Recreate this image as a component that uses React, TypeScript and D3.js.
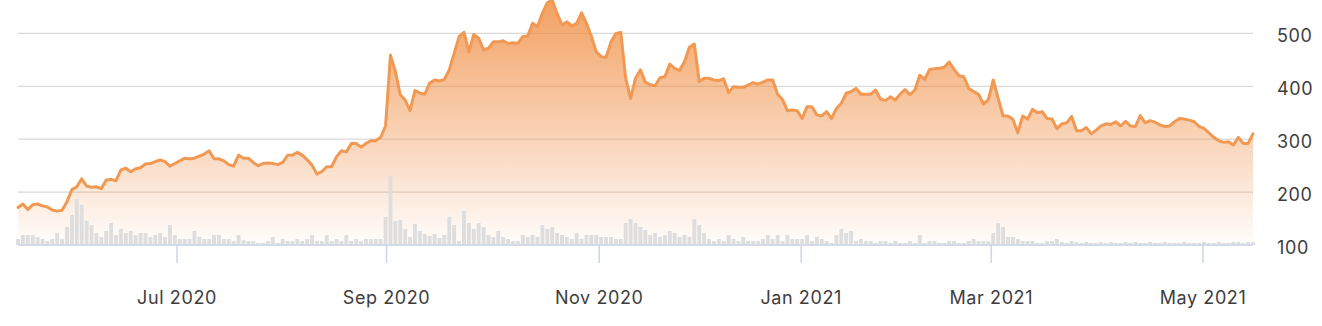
import React from "react";
import * as d3 from "d3";

// Closing price per trading day (mid-May 2020 → mid-May 2021)
const prices: number[] = [
  171, 177.5, 167, 176, 177.5, 174, 172, 166, 164, 165.5,
  182, 205, 210, 225, 211.5, 209, 210, 206.5, 223, 224,
  221.6, 242, 245, 238.6, 244, 246, 253, 254, 257.5, 260.7,
  257.5, 249, 254, 259, 264, 263, 264, 268, 272, 278,
  263, 263, 259, 252, 249, 270, 264, 264, 256, 250,
  254, 255, 254, 252, 256, 269.5, 270, 275, 270, 261,
  251, 234, 239, 248, 248, 267, 278, 276, 292, 292,
  285, 292, 297, 297, 303.5, 325, 459, 428, 384, 374,
  354, 392, 387, 385, 406, 412, 410, 413, 431, 462,
  494, 502, 465, 498, 491, 469, 472, 484, 484, 486,
  481, 482.5, 481, 494, 495, 519, 513, 538, 558, 563,
  538, 516, 522, 514, 519, 539, 519, 494, 465, 456,
  455, 484, 500, 502, 415, 377, 415, 431, 408, 403,
  401, 416, 418, 442, 434, 430, 447, 474, 480, 409,
  415, 415, 412, 411, 414, 388, 399, 398, 398, 402.5,
  407, 404, 408, 412, 412, 385, 375, 354, 355, 354,
  339, 361.5, 361.5, 346, 344, 352, 339, 358, 368, 387,
  390, 396, 385, 385, 385, 393, 376, 373, 380, 374,
  385, 394, 384, 393, 421, 413, 432, 433, 434, 436,
  446, 432, 420, 418, 396, 390, 385, 366.5, 375, 412,
  377, 344, 344, 337.6, 312, 344, 338, 356.5, 350, 352,
  339, 338, 320, 329, 331, 343, 316, 316, 322, 310,
  317, 325, 329, 328, 333, 325, 334, 325, 324, 344.5,
  331, 335, 332, 327, 324, 325, 333, 339, 338, 336,
  333, 324, 320.5, 312, 303.5, 297, 294, 295, 289, 303.5,
  292, 292, 310,
];

// Daily volume, millions of shares
const volumes: number[] = [
  0.3, 0.5, 0.5, 0.5, 0.4, 0.3, 0.2, 0.3, 0.6, 0.3,
  0.9, 1.5, 2.3, 2.0, 1.2, 1.0, 0.6, 0.4, 0.7, 1.1,
  0.5, 0.8, 0.6, 0.7, 0.5, 0.6, 0.6, 0.4, 0.5, 0.6,
  0.4, 1.0, 0.5, 0.3, 0.3, 0.3, 0.7, 0.4, 0.3, 0.3,
  0.5, 0.5, 0.3, 0.3, 0.2, 0.5, 0.25, 0.2, 0.2, 0.1,
  0.1, 0.2, 0.4, 0.1, 0.3, 0.2, 0.2, 0.3, 0.2, 0.3,
  0.5, 0.2, 0.2, 0.5, 0.2, 0.3, 0.2, 0.5, 0.2, 0.3,
  0.2, 0.3, 0.3, 0.3, 0.3, 1.4, 3.45, 1.2, 1.25, 0.8,
  0.4, 1.05, 0.7, 0.55, 0.45, 0.55, 0.35, 0.5, 1.4, 1.0,
  0.2, 1.7, 1.1, 0.8, 1.1, 0.9, 0.5, 0.4, 0.7, 0.4,
  0.3, 0.2, 0.2, 0.5, 0.4, 0.5, 0.4, 1.0, 0.8, 0.9,
  0.6, 0.5, 0.4, 0.3, 0.6, 0.3, 0.5, 0.5, 0.5, 0.4,
  0.4, 0.4, 0.3, 0.3, 1.1, 1.3, 1.1, 0.9, 0.75, 0.5,
  0.6, 0.4, 0.5, 0.7, 0.6, 0.4, 0.5, 0.4, 1.3, 1.0,
  0.6, 0.3, 0.2, 0.3, 0.2, 0.5, 0.3, 0.2, 0.4, 0.2,
  0.2, 0.2, 0.3, 0.5, 0.3, 0.5, 0.2, 0.5, 0.3, 0.3,
  0.3, 0.5, 0.2, 0.4, 0.3, 0.2, 0.1, 0.5, 0.8, 0.6,
  0.7, 0.2, 0.3, 0.2, 0.2, 0.1, 0.2, 0.2, 0.1, 0.2,
  0.1, 0.1, 0.2, 0.1, 0.5, 0.1, 0.2, 0.2, 0.1, 0.1,
  0.2, 0.2, 0.1, 0.1, 0.2, 0.3, 0.2, 0.2, 0.2, 0.6,
  1.1, 0.9, 0.4, 0.4, 0.3, 0.2, 0.2, 0.2, 0.1, 0.1,
  0.2, 0.2, 0.3, 0.15, 0.1, 0.2, 0.15, 0.1, 0.15, 0.1,
  0.1, 0.15, 0.1, 0.15, 0.1, 0.1, 0.15, 0.1, 0.15, 0.1,
  0.1, 0.15, 0.1, 0.1, 0.15, 0.1, 0.1, 0.1, 0.15, 0.1,
  0.1, 0.1, 0.15, 0.1, 0.1, 0.15, 0.1, 0.1, 0.15, 0.15,
  0.1, 0.15, 0.15,
];

const priceTicks: number[] = [100, 200, 300, 400, 500];

// Month labels, placed at their (ordinal) trading-day position
const monthLabels: string[] = ["Jul 2020", "Sep 2020", "Nov 2020", "Jan 2021", "Mar 2021", "May 2021"];
const monthPositions: number[] = [32.45, 75.2, 118.6, 159.8, 198.6, 241.8];

const W = 1322;
const H = 326;
const LEFT = 18;
const RIGHT = 1253;
const BASE = 245;
const FONT = "Inter, 'Liberation Sans', Arial, sans-serif";

export default function App() {
  const n = prices.length;
  const x = d3.scaleLinear().domain([0, n - 1]).range([LEFT, RIGHT]);
  const y = d3.scaleLinear().domain([100, 500]).range([BASE, 33.4]);
  const yv = d3.scaleLinear().domain([0, 5]).range([BASE, BASE - 100]);
  const step = x(1) - x(0);
  const barW = step * 0.8;

  const area = d3
    .area<number>()
    .x((_, i) => x(i))
    .y0(BASE)
    .y1((d) => y(d));
  const line = d3
    .line<number>()
    .x((_, i) => x(i))
    .y((d) => y(d));

  return (
    <svg
      width={W}
      height={H}
      style={{ position: "absolute", left: 0, top: 0, background: "#fff" }}
    >
      <defs>
        <linearGradient id="fillGrad" gradientUnits="userSpaceOnUse" x1="0" y1="0" x2="0" y2={BASE}>
          <stop offset="0" stopColor="#f0924a" stopOpacity={0.87} />
          <stop offset="1" stopColor="#f0924a" stopOpacity={0.02} />
        </linearGradient>
      </defs>
      {priceTicks.map((t) => (
        <line key={t} x1={LEFT} x2={RIGHT} y1={y(t)} y2={y(t)} stroke="#d9d9d9" strokeWidth={1.2} />
      ))}
      <path d={area(prices) || ""} fill="url(#fillGrad)" />
      {volumes.map((v, i) => (
        <rect
          key={i}
          x={x(i) - barW / 2}
          y={yv(v)}
          width={barW}
          height={BASE - yv(v)}
          fill="#dedede"
        />
      ))}
      <path
        d={line(prices) || ""}
        fill="none"
        stroke="#f19952"
        strokeWidth={3}
        strokeLinejoin="round"
        strokeLinecap="round"
      />
      <line x1={LEFT} x2={RIGHT} y1={BASE} y2={BASE} stroke="#ccd6eb" strokeWidth={1.5} />
      {monthPositions.map((p, i) => (
        <g key={monthLabels[i]}>
          <line x1={x(p)} x2={x(p)} y1={BASE} y2={BASE + 18} stroke="#ccd6eb" strokeWidth={1.5} />
          <text
            x={x(p)}
            y={304}
            textAnchor="middle"
            fontFamily={FONT}
            fontSize={18}
            fill="#3d3d3d"
            letterSpacing={0.6}
          >
            {monthLabels[i]}
          </text>
        </g>
      ))}
      {priceTicks.map((t) => (
        <text
          key={t}
          x={1277}
          y={y(t) + 8.5}
          textAnchor="start"
          fontFamily={FONT}
          fontSize={18}
          fill="#3d3d3d"
          letterSpacing={0.6}
        >
          {t}
        </text>
      ))}
    </svg>
  );
}
